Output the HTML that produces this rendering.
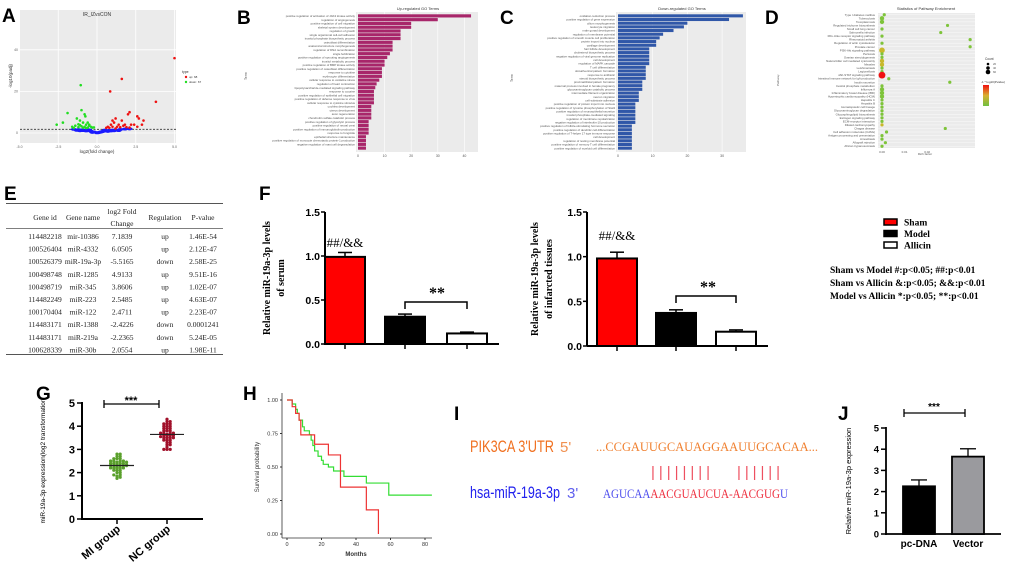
<!DOCTYPE html>
<html><head><meta charset="utf-8"><style>
html,body{margin:0;padding:0;background:#fff;}
svg{display:block;font-family:"Liberation Sans",sans-serif;}
.ser{font-family:"Liberation Serif",serif;}
</style></head><body>
<svg id="fig" width="1020" height="565" viewBox="0 0 1020 565" xmlns="http://www.w3.org/2000/svg">
<g font-weight="bold" font-size="19" fill="#000">
<text x="2" y="22">A</text>
<text x="237" y="24">B</text>
<text x="500" y="24">C</text>
<text x="765" y="24">D</text>
<text x="4" y="200">E</text>
<text x="259" y="200">F</text>
<text x="36" y="400">G</text>
<text x="243" y="400">H</text>
<text x="454" y="420">I</text>
<text x="838" y="420">J</text>
</g>
<g id="A"></g>
<g id="B"></g>
<g id="C"></g>
<g id="D"></g>
<g id="E" class="ser"></g>
<g id="F"></g>
<g id="G"></g>
<g id="H"></g>
<g id="I"></g>
<g id="J"></g>
</svg>
<script>
// ---------- data ----------
const volcanoRed=[[5,36],[3.8,15],[1.6,26],[0.85,20],[2.1,10],[2.0,9],[2.7,7],[2.6,8],[3.0,6],[2.9,4],[1.6,6],[1.2,7],[1.0,6],[1.1,5],[1.4,4],[1.8,4],[2.2,4],[2.4,4],[2.6,3],[0.9,4],[1.3,3],[0.7,3],[0.8,2.5],[1.5,2.8],[1.9,2.8],[2.1,2.6],[1.7,3.5],[1.0,3],[0.6,2.5],[1.2,2.2]];
const volcanoGreen=[[-1.05,23],[-1.0,11],[-1.9,9.6],[-0.8,9],[-0.75,8],[-1.3,7],[-1.1,6],[-2.2,5],[-2.6,4],[-0.9,5],[-0.6,5],[-0.5,4],[-1.2,4.2],[-0.7,4],[-1.4,3.5],[-1.0,3.2],[-0.4,3],[-0.8,3],[-1.6,3],[-1.2,2.8],[-0.3,2.6],[-0.6,2.6],[-0.9,2.5],[-1.5,2.4],[-0.5,3.5],[-1.1,3.8],[-0.2,2.7],[-0.7,2.4]];
const volcanoBlue=[[-1.5,1.8],[-1.2,1.6],[-1.0,1.5],[-0.8,1.4],[-0.6,1.2],[-0.4,0.9],[-0.2,0.5],[0,0.1],[0.2,0.4],[0.4,0.8],[0.6,1.0],[0.8,1.2],[1.0,1.4],[1.2,1.5],[1.5,1.7],[1.8,1.9],[2.1,2.0],[-0.3,0.3],[0.1,0.2],[0.3,0.6],[-0.9,1.2],[0.9,1.0],[-0.5,1.5],[0.5,1.4],[1.4,1.2],[-1.3,1.3],[-0.7,1.0],[0.7,0.8],[-1.1,1.1],[1.1,1.1]];
const upTerms=["positive regulation of activation of JAK2 kinase activity","regulation of angiogenesis","positive regulation of cell migration","skeletal system development","regulation of growth","single organismal cell-cell adhesion","inositol phosphate biosynthetic process","osteoblast differentiation","anatomical structure morphogenesis","regulation of DNA recombination","single fertilization","positive regulation of sprouting angiogenesis","inositol metabolic process","positive regulation of BMP kinase activity","positive regulation of osteoblast differentiation","response to cytokine","erythrocyte differentiation","cellular response to oxidative stress","regulation of heart contraction","lipopolysaccharide-mediated signaling pathway","response to cocaine","positive regulation of epithelial cell migration","positive regulation of defense response to virus","cellular response to cytokine stimulus","cochlea development","uterus development","axon regeneration","chondroitin sulfate catabolic process","positive regulation of glycolytic process","positive regulation of neural crest","positive regulation of immunoglobulin production","response to fungicide","epithelial structure maintenance","positive regulation of monocyte chemotactic protein-1 production","negative regulation of mast cell degranulation"];
const upValues=[42.5,30,20,20,16,16,16,13,13,13,12,11,10,10,9,9,9,8,7,6.5,6,6,6,6,5,5,5,5,4,4,4,4,3,3,3,3];
const downTerms=["oxidation-reduction process","positive regulation of gene expression","cilium morphogenesis","leukocyte migration","male gonad development","regulation of membrane potential","positive regulation of smooth muscle cell proliferation","protein import into nucleus","cartilage development","hair follicle development","cholesterol biosynthetic process","negative regulation of viral genome replication","cell development","regulation of MAPK cascade","T cell differentiation","dorsal/ventral pattern formation","response to antibiotic","steroid biosynthetic process","proximal/distal pattern formation","maternal process involved in female pregnancy","glycosaminoglycan catabolic process","intermediate filament organization","neuron migration","cell-substrate adhesion","positive regulation of protein import into nucleus","positive regulation of tyrosine phosphorylation of Stat3","positive regulation of neuroepithelial secretion","inositol phosphate-mediated signaling","regulation of membrane repolarization","negative regulation of interleukin-10 production","positive regulation of follicle-stimulating hormone secretion","positive regulation of dendritic cell differentiation","positive regulation of T-helper 17 type immune response","cell development","regulation of resting membrane potential","positive regulation of memory T cell differentiation","positive regulation of myeloid cell differentiation"];
const downValues=[36,32,20,19,16,13,12,11,11,9,9,9,9,9,8,8,8,8,7,7,7,6,6,6,5,5,5,5,5,5,4,4,4,4,4,4,4];
const pathNames=["Type I diabetes mellitus","Tuberculosis","Toxoplasmosis","Regulated trichome biosynthesis","Small cell lung cancer","Salmonella infection","RIG-I-like receptor signaling pathway","Rheumatoid arthritis","Regulation of actin cytoskeleton","Prostate cancer","PI3K-Akt signaling pathway","Pertussis","Ovarian steroidogenesis","Natural killer cell mediated cytotoxicity","Measles","Leishmaniasis","Legionellosis","JAK-STAT signaling pathway","Intestinal immune network for IgA production","Insulin secretion","Inositol phosphate metabolism","Influenza A","Inflammatory bowel disease (IBD)","Hypertrophic cardiomyopathy (HCM)","Hepatitis C","Hepatitis B","Hematopoietic cell lineage","Glycosaminoglycan degradation","Glycosphingolipid biosynthesis","Estrogen signaling pathway","ECM-receptor interaction","Dilated cardiomyopathy","Chagas disease","Cell adhesion molecules (CAMs)","Antigen processing and presentation","Amoebiasis","Allograft rejection","African trypanosomiasis"];
const pathRich=[0.001,0,0,0.029,0,0.026,0,0.039,0,0.039,0,0,0,0,0,0,0,0,0.003,0.030,0,0,0,0,0,0,0,0,0,0,0,0,0.028,0.002,0,0,0.0015,0];
const pathCount=[1,2,2,1,1,1,1,1,1,1,3,1,1,2,2,1,1,4,1,1,1,2,2,2,1,1,1,1,1,1,1,1,1,1,1,1,1,1];
const pathSig=[1,1,1,1,1,1,1,1,1,1,2,1,1,2,2,1,1,3,1,1,1,1,1,1,1,1,1,1,1,1,1,2,1,1,1,1,1,1];
const tableHead=["Gene id","Gene name","log2 Fold Change","Regulation","P-value"];
const tableRows=[["114482218","mir-10386","7.1839","up","1.46E-54"],["100526404","miR-4332","6.0505","up","2.12E-47"],["100526379","miR-19a-3p","-5.5165","down","2.58E-25"],["100498748","miR-1285","4.9133","up","9.51E-16"],["100498719","miR-345","3.8606","up","1.02E-07"],["114482249","miR-223","2.5485","up","4.63E-07"],["100170404","miR-122","2.4711","up","2.23E-07"],["114483171","miR-1388","-2.4226","down","0.0001241"],["114483171","miR-219a","-2.2365","down","5.24E-05"],["100628339","miR-30b","2.0554","up","1.98E-11"]];
const fGroups=["Sham","Model","Allicin"];
const fSerum=[0.99,0.31,0.12];
const fSerumErr=[0.05,0.03,0.015];
const fTissue=[0.98,0.37,0.16];
const fTissueErr=[0.07,0.035,0.02];
const gTicks=[0,1,2,3,4,5];
const gMI=[1.75,1.8,1.85,1.9,1.9,2.0,2.0,2.1,2.1,2.1,2.2,2.2,2.2,2.2,2.25,2.3,2.3,2.3,2.3,2.3,2.35,2.4,2.4,2.4,2.4,2.45,2.5,2.5,2.5,2.5,2.6,2.6,2.6,2.7,2.7,2.8,2.8,2.2,2.35,2.45];
const gNC=[3.0,3.0,3.0,3.1,3.2,3.2,3.3,3.3,3.4,3.4,3.4,3.5,3.5,3.5,3.5,3.6,3.6,3.6,3.6,3.65,3.7,3.7,3.7,3.7,3.8,3.8,3.8,3.9,3.9,3.9,4.0,4.0,4.0,4.1,4.1,4.1,4.2,4.2,4.3,3.55];
const survTicks=[0,20,40,60,80];
const survRed=[[0,1],[3,0.95],[5,0.9],[7,0.85],[8,0.74],[16,0.74],[16,0.67],[24,0.67],[24,0.59],[31,0.59],[31,0.35],[46,0.35],[46,0.18],[53,0.18],[53,0]];
const survGreen=[[0,1],[3,0.97],[5,0.93],[6,0.9],[7,0.85],[9,0.8],[10,0.77],[13,0.74],[14,0.7],[15,0.66],[16,0.62],[18,0.58],[20,0.55],[21,0.52],[24,0.5],[27,0.47],[32,0.47],[33,0.43],[46,0.43],[46,0.38],[59,0.38],[59,0.29],[84,0.29]];
const jCats=["pc-DNA","Vector"];
const jValues=[2.25,3.65];
const jErr=[0.3,0.37];

// ---------- helpers ----------
const NS="http://www.w3.org/2000/svg";
function mk(parent,tag,attrs,text){const e=document.createElementNS(NS,tag);for(const k in attrs)e.setAttribute(k,attrs[k]);if(text!==undefined)e.textContent=text;parent.appendChild(e);return e;}
const $=id=>document.getElementById(id);

// ---------- A volcano ----------
(function(){const g=$('A');
const x=v=>97+v*15.5, y=v=>133-v*2.08;
let r=mk(g,'rect',{x:20,y:10,width:156,height:133,fill:'#ebebeb'});

[-5,-2.5,0,2.5,5].forEach(t=>mk(g,'line',{x1:x(t),x2:x(t),y1:10,y2:143,stroke:'#fff','stroke-width':0.8}));
[0,20,40].forEach(t=>mk(g,'line',{x1:20,x2:176,y1:y(t),y2:y(t),stroke:'#fff','stroke-width':0.8}));
[-5,-2.5,0,2.5,5].forEach(t=>mk(g,'text',{x:x(t),y:148,'font-size':3.5,'text-anchor':'middle',fill:'#666'},t.toFixed(1)));
[0,20,40].forEach(t=>mk(g,'text',{x:18,y:y(t)+1,'font-size':3.5,'text-anchor':'end',fill:'#666'},t));
mk(g,'line',{x1:20,x2:176,y1:y(1.3)-1,y2:y(1.3)-1,stroke:'#333','stroke-width':0.8,'stroke-dasharray':'2,1.5'});
volcanoBlue.forEach(p=>{const c=mk(g,'ellipse',{cx:x(p[0]),cy:y(p[1]),rx:3,ry:1.5,fill:'#1a1aff'});});
volcanoGreen.forEach(p=>{const c=mk(g,'circle',{cx:x(p[0]),cy:y(p[1]),r:1.3,fill:'#22dd22'});});
volcanoRed.forEach(p=>{const c=mk(g,'circle',{cx:x(p[0]),cy:y(p[1]),r:1.3,fill:'#ee1111'});});
mk(g,'text',{x:97,y:16,'font-size':5,'text-anchor':'middle',fill:'#333'},'IR_IZvsCON');
mk(g,'text',{x:97,y:153,'font-size':4.5,'text-anchor':'middle',fill:'#333'},'log2(fold change)');
mk(g,'text',{x:12,y:76,'font-size':4.5,'text-anchor':'middle',fill:'#333',transform:'rotate(-90 12 76)'},'-log10(padj)');
mk(g,'text',{x:182,y:73,'font-size':3.5,fill:'#333'},'type');
mk(g,'circle',{cx:186,cy:77,r:1.2,fill:'#e11'});mk(g,'text',{x:189,y:78,'font-size':3,fill:'#333'},'up: 68');
mk(g,'circle',{cx:186,cy:82,r:1.2,fill:'#2d2'});mk(g,'text',{x:189,y:83,'font-size':3,fill:'#333'},'down: 67');
})();

// ---------- B / C GO bars ----------
function goChart(id,terms,vals,x0,x1,pxu,color,title,ticks){const g=$(id);
const top=14,bot=150,n=vals.length,h=(bot-top)/n;
mk(g,'rect',{x:x0-2,y:top-2,width:x1-x0+2,height:bot-top+4,fill:'#ebebeb'});
ticks.forEach(t=>{mk(g,'line',{x1:x0+t*pxu,x2:x0+t*pxu,y1:top-2,y2:bot+2,stroke:'#fff','stroke-width':0.6});mk(g,'text',{x:x0+t*pxu,y:bot+7,'font-size':3.5,'text-anchor':'middle',fill:'#555'},t);});
vals.forEach((v,i)=>{const b=mk(g,'rect',{x:x0,y:top+i*h+0.3,width:v*pxu,height:h-0.6,fill:color});
if(terms[i])mk(g,'text',{x:x0-3,y:top+i*h+h*0.8,'font-size':2.9,'text-anchor':'end',fill:'#555'},terms[i]);});
mk(g,'text',{x:(x0+x1)/2,y:10,'font-size':4,'text-anchor':'middle',fill:'#333'},title);
}
goChart('B',upTerms,upValues,358,478,2.66,'#a8266a','Up-regulated GO Terms',[0,10,20,30,40]);
mk($('B'),'text',{x:247,y:80,'font-size':3.5,fill:'#555',transform:'rotate(-90 247 80)'},'Term');
goChart('C',downTerms,downValues,618,746,3.47,'#3057a8','Down-regulated GO Terms',[0,10,20,30]);
mk($('C'),'text',{x:513,y:82,'font-size':3.5,fill:'#555',transform:'rotate(-90 513 82)'},'Term');

// ---------- D pathway ----------
(function(){const g=$('D');const x0=878,x1=975,top=13,bot=148,n=pathNames.length,h=(bot-top)/n;
const x=v=>882+v*2260;
mk(g,'rect',{x:x0,y:top,width:x1-x0,height:bot-top,fill:'#ebebeb'});
pathNames.forEach((nm,i)=>{const cy=top+i*h+h/2;mk(g,'line',{x1:x0,x2:x1,y1:cy,y2:cy,stroke:'#fff','stroke-width':0.4});
mk(g,'text',{x:x0-3,y:cy+1,'font-size':2.9,'text-anchor':'end',fill:'#555'},nm);
const col=['#7ec43a','#c8b82a','#f01010'][pathSig[i]-1];
const c=mk(g,'circle',{cx:x(pathRich[i]),cy:cy,r:1+pathCount[i]*0.6,fill:col});});
[0,0.01,0.02].forEach(t=>mk(g,'text',{x:x(t),y:bot+5,'font-size':3,'text-anchor':'middle',fill:'#555'},t.toFixed(2)));
mk(g,'text',{x:926,y:10,'font-size':4,'text-anchor':'middle',fill:'#333'},'Statistics of Pathway Enrichment');
mk(g,'text',{x:925,y:155,'font-size':3,'text-anchor':'middle',fill:'#555'},'Rich factor');
mk(g,'text',{x:779,y:86,'font-size':3,fill:'#555',transform:'rotate(-90 779 86)'},'Pathway');
mk(g,'text',{x:985,y:60,'font-size':3.2,fill:'#333'},'Count');
[1,2,3].forEach((k,i)=>{mk(g,'circle',{cx:988,cy:64+i*4,r:0.8+k*0.5,fill:'#000'});mk(g,'text',{x:993,y:65+i*4,'font-size':2.8,fill:'#555'},[20,40,60][i]);});
mk(g,'text',{x:981,y:83,'font-size':3,fill:'#333'},'-1 * log10(Pvalue)');
const gr=mk(g,'defs',{});const lg=mk(gr,'linearGradient',{id:'dg',x1:0,y1:0,x2:0,y2:1});
mk(lg,'stop',{offset:'0','stop-color':'#f01010'});mk(lg,'stop',{offset:'0.5','stop-color':'#d8b030'});mk(lg,'stop',{offset:'1','stop-color':'#70c040'});
mk(g,'rect',{x:983,y:85,width:6,height:21,fill:'url(#dg)'});
})();

// ---------- E table ----------
(function(){const g=$('E');const cx=[45,83,122,165,203];
mk(g,'line',{x1:6,x2:223,y1:203.5,y2:203.5,stroke:'#555','stroke-width':1});
mk(g,'line',{x1:6,x2:223,y1:228.5,y2:228.5,stroke:'#555','stroke-width':0.8});
mk(g,'line',{x1:6,x2:223,y1:354.5,y2:354.5,stroke:'#555','stroke-width':1});
tableHead.forEach((t,i)=>{if(i==2){mk(g,'text',{x:cx[i],y:214,'font-size':7.5,'text-anchor':'middle',fill:'#222'},'log2 Fold');mk(g,'text',{x:cx[i],y:226,'font-size':7.5,'text-anchor':'middle',fill:'#222'},'Change');}
else mk(g,'text',{x:cx[i],y:220,'font-size':7.5,'text-anchor':'middle',fill:'#222'},t);});
tableRows.forEach((r,j)=>r.forEach((t,i)=>mk(g,'text',{x:cx[i],y:239+j*12.6,'font-size':7.5,'text-anchor':'middle',fill:'#222'},t)));
})();

// ---------- F bars ----------
function fChart(ax,y0,yTop,bars,vals,errs,lab1,lab2,labX,bracketY,hashY){const g=$('F');
const y=v=>y0-(y0-yTop)*v/1.5;const cols=['#ff0000','#000000','#ffffff'];
mk(g,'line',{x1:ax,x2:ax,y1:yTop,y2:y0,stroke:'#000','stroke-width':2});
mk(g,'line',{x1:ax,x2:bars[2]+52,y1:y0,y2:y0,stroke:'#000','stroke-width':2});
[0,0.5,1.0,1.5].forEach(t=>{mk(g,'line',{x1:ax-4,x2:ax,y1:y(t),y2:y(t),stroke:'#000','stroke-width':1.5});mk(g,'text',{x:ax-5,y:y(t)+4,'font-size':10.5,'font-weight':'bold','text-anchor':'end'},t.toFixed(1));});
vals.forEach((v,i)=>{const bx=bars[i];
mk(g,'line',{x1:bx+20,x2:bx+20,y1:y(v+errs[i]),y2:y(v),stroke:'#000','stroke-width':1.5});
mk(g,'line',{x1:bx+13,x2:bx+27,y1:y(v+errs[i]),y2:y(v+errs[i]),stroke:'#000','stroke-width':1.5});
const b=mk(g,'rect',{x:bx,y:y(v),width:40,height:y0-y(v),fill:cols[i],stroke:'#000','stroke-width':2});
mk(g,'line',{x1:bx+20,x2:bx+20,y1:y0,y2:y0+5,stroke:'#000','stroke-width':1.5});});
mk(g,'text',{x:bars[0]+20,y:hashY,'font-size':13,'text-anchor':'middle',class:'ser'},'##/&&');
mk(g,'path',{d:`M${bars[1]+20} ${bracketY+7}V${bracketY}H${bars[2]+20}V${bracketY+7}`,fill:'none',stroke:'#000','stroke-width':1.5});
mk(g,'text',{x:bars[1]+52,y:bracketY-4,'font-size':16,'text-anchor':'middle','font-weight':'bold',class:'ser'},'**');
mk(g,'text',{x:labX,y:(yTop+y0)/2,'font-size':10,'font-weight':'bold','text-anchor':'middle',class:'ser',transform:`rotate(-90 ${labX} ${(yTop+y0)/2})`},lab1);
mk(g,'text',{x:labX+14,y:(yTop+y0)/2,'font-size':10,'font-weight':'bold','text-anchor':'middle',class:'ser',transform:`rotate(-90 ${labX+14} ${(yTop+y0)/2})`},lab2);
}
fChart(325,344,212,[325,385,447],fSerum,fSerumErr,'Relative miR-19a-3p levels','of serum',270,302,247);
fChart(587,346,212,[597,656,716],fTissue,fTissueErr,'Relative miR-19a-3p levels','of infarcted tissues',538,296,240);
(function(){const g=$('F');const cols=['#ff0000','#000000','#ffffff'];
fGroups.forEach((n,i)=>{const r=mk(g,'rect',{x:884,y:219+i*11.5,width:13,height:6,fill:cols[i],stroke:'#000','stroke-width':1.5});
mk(g,'text',{x:904,y:225.5+i*11.5,'font-size':9.5,'font-weight':'bold',class:'ser'},n);});
['Sham vs Model #:p<0.05; ##:p<0.01','Sham vs Allicin &:p<0.05; &&:p<0.01','Model vs Allicin *:p<0.05; **:p<0.01'].forEach((t,i)=>mk(g,'text',{x:830,y:273+i*13,'font-size':9.5,'font-weight':'bold',class:'ser'},t));
})();

// ---------- G scatter ----------
(function(){const g=$('G');const y=v=>519-v*23.2;
mk(g,'line',{x1:82,x2:82,y1:402,y2:520,stroke:'#000','stroke-width':2});
mk(g,'line',{x1:81,x2:203,y1:519,y2:519,stroke:'#000','stroke-width':2});
gTicks.forEach(t=>{mk(g,'line',{x1:77,x2:82,y1:y(t),y2:y(t),stroke:'#000','stroke-width':1.5});mk(g,'text',{x:75,y:y(t)+4,'font-size':11,'font-weight':'bold','text-anchor':'end'},t);});
function swarm(vals,cx,col){const bins={};vals.forEach(v=>{const k=Math.round(v*10);bins[k]=(bins[k]||0)+1;const i=bins[k]-1;const off=(i%2?1:-1)*Math.ceil(i/2)*3.2;
const c=mk(g,'circle',{cx:cx+off,cy:y(v),r:1.6,fill:col});});
const m=vals.reduce((a,b)=>a+b,0)/vals.length;mk(g,'line',{x1:cx-17,x2:cx+17,y1:y(m),y2:y(m),stroke:'#222','stroke-width':1.2});}
swarm(gMI,117,'#5aa02c');swarm(gNC,167,'#a0102a');
[['MI group',117],['NC group',167]].forEach(p=>{mk(g,'line',{x1:p[1],x2:p[1],y1:519,y2:524,stroke:'#000','stroke-width':1.5});
mk(g,'text',{x:p[1]+4,y:530,'font-size':11,'font-weight':'bold','text-anchor':'end',transform:`rotate(-40 ${p[1]+4} 530)`},p[0]);});
mk(g,'path',{d:'M104 400V408M104 404H159M159 400V408',stroke:'#000','stroke-width':1.3,fill:'none'});
mk(g,'text',{x:131,y:404,'font-size':11,'font-weight':'bold','text-anchor':'middle'},'***');
mk(g,'text',{x:45,y:461,'font-size':6.5,'text-anchor':'middle',transform:'rotate(-90 45 461)'},'miR-19a-3p expression(log2 transformation');
})();

// ---------- H survival ----------
(function(){const g=$('H');const x=v=>287+v*1.725,y=v=>534-v*134;
mk(g,'line',{x1:282,x2:282,y1:393,y2:538,stroke:'#333','stroke-width':0.8});
mk(g,'line',{x1:282,x2:432,y1:538,y2:538,stroke:'#333','stroke-width':0.8});
[0,0.25,0.5,0.75,1].forEach(t=>{mk(g,'line',{x1:280,x2:282,y1:y(t),y2:y(t),stroke:'#333'});mk(g,'text',{x:278,y:y(t)+2,'font-size':5.5,'text-anchor':'end',fill:'#333'},t.toFixed(2));});
survTicks.forEach(t=>{mk(g,'line',{x1:x(t),x2:x(t),y1:538,y2:540,stroke:'#333'});mk(g,'text',{x:x(t),y:546,'font-size':5.5,'text-anchor':'middle',fill:'#333'},t);});
mk(g,'text',{x:356,y:556,'font-size':6,'font-weight':'bold','text-anchor':'middle',fill:'#333'},'Months');
mk(g,'text',{x:259,y:467,'font-size':6,'text-anchor':'middle',fill:'#333',transform:'rotate(-90 259 467)'},'Survival probability');
function step(pts,col,nm){let d=`M${x(pts[0][0])} ${y(pts[0][1])}`;for(let i=1;i<pts.length;i++){d+=`H${x(pts[i][0])}V${y(pts[i][1])}`;}
const p=mk(g,'path',{d:d,fill:'none',stroke:col,'stroke-width':1.2});}
step(survGreen,'#33dd33','survival-curve-green');step(survRed,'#ee3333','survival-curve-red');
})();

// ---------- I binding ----------
(function(){const g=$('I');
mk(g,'text',{x:470,y:452,'font-size':17,fill:'#f07020',textLength:84,lengthAdjust:'spacingAndGlyphs'},"PIK3CA 3'UTR");
mk(g,'text',{x:560,y:452,'font-size':15,fill:'#f09050'},"5'");
mk(g,'text',{x:596,y:451,'font-size':13,fill:'#f08030',class:'ser',textLength:222,lengthAdjust:'spacingAndGlyphs'},'...CCGAUUGCAUAGGAAUUGCACAA...');
mk(g,'text',{x:470,y:498,'font-size':17,fill:'#2020ee',textLength:90,lengthAdjust:'spacingAndGlyphs'},"hsa-miR-19a-3p");
mk(g,'text',{x:567,y:498,'font-size':15,fill:'#6060ee'},"3'");
const s2=mk(g,'text',{x:603,y:498,'font-size':13,class:'ser',textLength:185,lengthAdjust:'spacingAndGlyphs'});
mk(s2,'tspan',{fill:'#5050ee'},'AGUCAA');mk(s2,'tspan',{fill:'#ee3040'},'AACGUAUCUA-AACGUG');mk(s2,'tspan',{fill:'#5050ee'},'U');
mk(g,'text',{x:651,y:477,'font-size':15,fill:'#ee5060',textLength:59,lengthAdjust:'spacing'},'||||||||');
mk(g,'text',{x:737,y:477,'font-size':15,fill:'#ee5060',textLength:43,lengthAdjust:'spacing'},'||||||');
})();

// ---------- J bars ----------
(function(){const g=$('J');const y=v=>534-v*21.2;const bx=[903,952];const cols=['#000','#9a9a9e'];
mk(g,'line',{x1:886,x2:886,y1:427,y2:535,stroke:'#000','stroke-width':1.8});
mk(g,'line',{x1:885,x2:1001,y1:534,y2:534,stroke:'#000','stroke-width':1.8});
[0,1,2,3,4,5].forEach(t=>{mk(g,'line',{x1:881,x2:886,y1:y(t),y2:y(t),stroke:'#000','stroke-width':1.5});mk(g,'text',{x:879,y:y(t)+3.5,'font-size':9.5,'font-weight':'bold','text-anchor':'end'},t);});
jValues.forEach((v,i)=>{mk(g,'line',{x1:bx[i]+16,x2:bx[i]+16,y1:y(v+jErr[i]),y2:y(v),stroke:'#000','stroke-width':1.3});
mk(g,'line',{x1:bx[i]+8,x2:bx[i]+24,y1:y(v+jErr[i]),y2:y(v+jErr[i]),stroke:'#000','stroke-width':1.3});
const r=mk(g,'rect',{x:bx[i],y:y(v),width:32,height:534-y(v),fill:cols[i],stroke:'#000','stroke-width':1.8});
mk(g,'text',{x:bx[i]+16,y:547,'font-size':10,'font-weight':'bold','text-anchor':'middle'},jCats[i]);});
mk(g,'path',{d:'M904 409V417M904 413H965M965 409V417',stroke:'#000','stroke-width':1.3,fill:'none'});
mk(g,'text',{x:934,y:410,'font-size':10,'font-weight':'bold','text-anchor':'middle'},'***');
mk(g,'text',{x:851,y:481,'font-size':7.5,'text-anchor':'middle',transform:'rotate(-90 851 481)'},'Relative miR-19a-3p expression');
})();
</script>
</body></html>
